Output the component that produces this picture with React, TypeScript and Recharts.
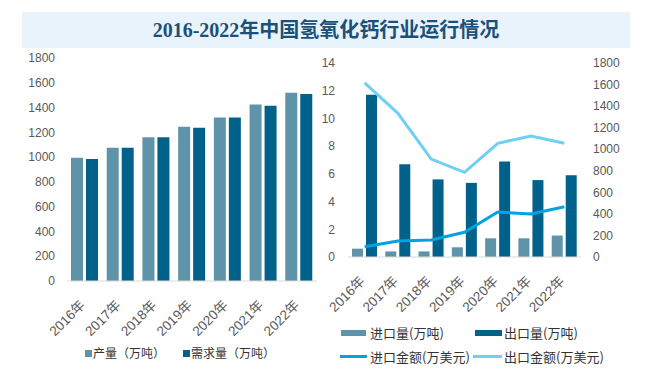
import React from "react";
import {
  BarChart,
  ComposedChart,
  Bar,
  Line,
  XAxis,
  YAxis,
} from "recharts";

const years = ["2016年", "2017年", "2018年", "2019年", "2020年", "2021年", "2022年"];

// left panel (万吨)
const output = [995, 1075, 1160, 1245, 1320, 1425, 1520];
const demand = [985, 1075, 1160, 1238, 1320, 1415, 1510];
const leftTicks = [0, 200, 400, 600, 800, 1000, 1200, 1400, 1600, 1800];

// right panel
const importVol = [0.6, 0.4, 0.4, 0.7, 1.35, 1.35, 1.55];
const exportVol = [11.7, 6.7, 5.6, 5.35, 6.9, 5.55, 5.9];
const importAmt = [96, 148, 158, 229, 417, 399, 467];
const exportAmt = [1615, 1333, 909, 786, 1055, 1123, 1055];
const volTicks = [0, 2, 4, 6, 8, 10, 12, 14];
const amtTicks = [0, 200, 400, 600, 800, 1000, 1200, 1400, 1600, 1800];

const LIGHT = "#5e93a9";
const DARK = "#00628a";
const IMP_LINE = "#00a3e0";
const EXP_LINE = "#70cff5";
const TICK = "#595959";

const leftData = years.map((y, i) => ({ year: y, output: output[i], demand: demand[i] }));
const rightData = years.map((y, i) => ({
  year: y,
  importVol: importVol[i],
  exportVol: exportVol[i],
  importAmt: importAmt[i],
  exportAmt: exportAmt[i],
}));

const tickFont = "'Liberation Sans', 'Noto Sans CJK SC', sans-serif";

const YearTick = (props: any) => {
  const { x, y, payload } = props;
  const tx = x + 1;
  const ty = y + 19;
  return (
    <text
      x={tx}
      y={ty}
      transform={`rotate(-45, ${tx}, ${ty})`}
      textAnchor="end"
      fill={TICK}
      fontSize={13.5}
      fontFamily={tickFont}
    >
      {payload.value}
    </text>
  );
};

const legendText: React.CSSProperties = {
  position: "absolute",
  color: "#333",
  whiteSpace: "nowrap",
  fontFamily: "'Noto Sans CJK SC', sans-serif",
};

export default function App() {
  return (
    <div
      style={{
        position: "absolute",
        left: 0,
        top: 0,
        width: 650,
        height: 377,
        background: "#fff",
        overflow: "hidden",
      }}
    >
      {/* title band */}
      <div
        style={{
          position: "absolute",
          left: 22,
          top: 12,
          width: 608,
          height: 36,
          background: "#e8f3fc",
          textAlign: "center",
          lineHeight: "36px",
          fontSize: 20,
          fontWeight: "bold",
          color: "#1b5078",
          fontFamily: "'Liberation Serif', 'Noto Sans CJK SC', serif",
        }}
      >
        2016-2022年中国氢氧化钙行业运行情况
      </div>

      {/* left: production & demand */}
      <div style={{ position: "absolute", left: 0, top: 0 }}>
        <BarChart
          width={330}
          height={377}
          data={leftData}
          margin={{ top: 58, right: 13, left: 17, bottom: 46 }}
          barSize={12}
          barGap={3}
        >
          <XAxis
            dataKey="year"
            tick={<YearTick />}
            tickLine={false}
            tickMargin={0}
            axisLine={{ stroke: "#d9d9d9" }}
            interval={0}
            height={50}
          />
          <YAxis
            domain={[0, 1800]}
            ticks={leftTicks}
            tick={{ fill: TICK, fontSize: 12, fontFamily: tickFont }}
            tickLine={false}
            axisLine={false}
            tickMargin={6}
            width={50}
          />
          <Bar dataKey="output" fill={LIGHT} isAnimationActive={false} />
          <Bar dataKey="demand" fill={DARK} isAnimationActive={false} />
        </BarChart>
      </div>

      {/* right: import / export */}
      <div style={{ position: "absolute", left: 300, top: 0 }}>
        <ComposedChart
          width={350}
          height={377}
          data={rightData}
          margin={{ top: 63, right: 19, left: 8, bottom: 70 }}
          barSize={11}
          barGap={3}
        >
          <XAxis
            dataKey="year"
            tick={<YearTick />}
            tickLine={false}
            tickMargin={0}
            axisLine={{ stroke: "#d9d9d9" }}
            interval={0}
            height={50}
          />
          <YAxis
            yAxisId="vol"
            domain={[0, 14]}
            ticks={volTicks}
            tick={{ fill: TICK, fontSize: 12, fontFamily: tickFont }}
            tickLine={false}
            axisLine={false}
            tickMargin={7}
            width={40}
          />
          <YAxis
            yAxisId="amt"
            orientation="right"
            domain={[0, 1800]}
            ticks={amtTicks}
            tick={{ fill: TICK, fontSize: 12, fontFamily: tickFont, textAnchor: "start" }}
            tickLine={false}
            axisLine={false}
            tickMargin={6}
            width={50}
          />
          <Bar yAxisId="vol" dataKey="importVol" fill={LIGHT} isAnimationActive={false} />
          <Bar yAxisId="vol" dataKey="exportVol" fill={DARK} isAnimationActive={false} />
          <Line
            yAxisId="amt"
            type="linear"
            dataKey="importAmt"
            stroke={IMP_LINE}
            strokeWidth={3}
            dot={false}
            isAnimationActive={false}
          />
          <Line
            yAxisId="amt"
            type="linear"
            dataKey="exportAmt"
            stroke={EXP_LINE}
            strokeWidth={3}
            dot={false}
            isAnimationActive={false}
          />
        </ComposedChart>
      </div>

      {/* left legend */}
      <div style={{ position: "absolute", left: 85, top: 350, width: 7, height: 7, background: LIGHT }} />
      <div style={{ ...legendText, left: 93, top: 345, fontSize: 12, lineHeight: "16px" }}>产量（万吨）</div>
      <div style={{ position: "absolute", left: 183, top: 350, width: 7, height: 7, background: DARK }} />
      <div style={{ ...legendText, left: 191, top: 345, fontSize: 12, lineHeight: "16px" }}>需求量（万吨）</div>

      {/* right legend */}
      <div style={{ position: "absolute", left: 341, top: 330, width: 25, height: 6, background: LIGHT }} />
      <div style={{ ...legendText, left: 370, top: 324, fontSize: 13, lineHeight: "18px" }}>进口量(万吨)</div>
      <div style={{ position: "absolute", left: 475, top: 330, width: 27, height: 6, background: DARK }} />
      <div style={{ ...legendText, left: 504, top: 324, fontSize: 13, lineHeight: "18px" }}>出口量(万吨)</div>
      <div style={{ position: "absolute", left: 340, top: 355, width: 27, height: 3, background: IMP_LINE }} />
      <div style={{ ...legendText, left: 370, top: 348, fontSize: 13, lineHeight: "18px" }}>进口金额(万美元)</div>
      <div style={{ position: "absolute", left: 473, top: 355, width: 29, height: 3, background: EXP_LINE }} />
      <div style={{ ...legendText, left: 504, top: 348, fontSize: 13, lineHeight: "18px" }}>出口金额(万美元)</div>
    </div>
  );
}
